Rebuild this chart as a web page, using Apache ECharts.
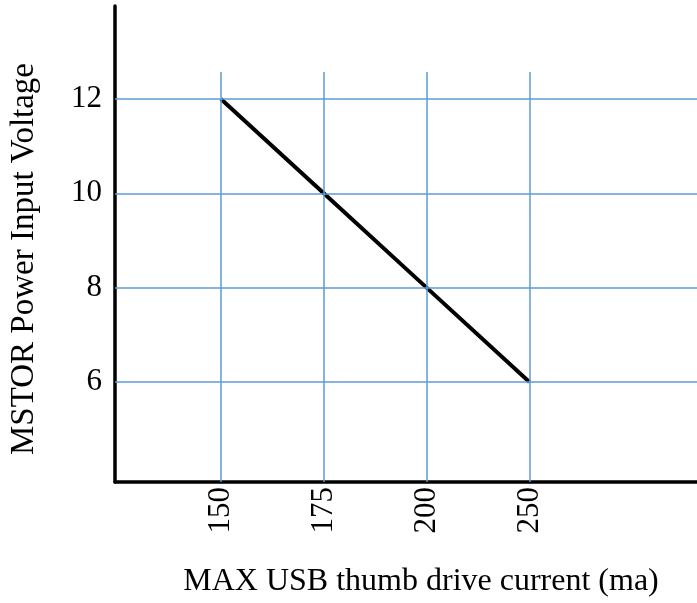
<!DOCTYPE html>
<html lang="en">
<head>
    <meta charset="UTF-8" />
    <title>MSTOR</title>
    <script src="https://cdn.jsdelivr.net/npm/echarts@6/dist/echarts.min.js"></script>
</head>
<body style="margin: 0">
    <div id="main" style="width: 697px; height: 603px"></div>
    <script>
        // 数据
        var currents = ["150", "175", "200", "250"]; // x轴标签（等距排列）
        var voltages = [12, 10, 8, 6];
        var yTicks = [6, 8, 10, 12];

        var xPos = currents.map(function (c, i) { return i + 1; });
        var lineData = xPos.map(function (x, i) { return [x, voltages[i]]; });

        var yMin = 3.88, yMax = 13.97;
        var vLineTop = 12.57; // 竖直网格线的上端
        var gridColor = "#5b9bd5";
        var font = "Liberation Serif";

        var mCharts = echarts.init(document.getElementById("main"));

        var gridLines = [];
        xPos.forEach(function (x) {
            gridLines.push([{ coord: [x, yMin] }, { coord: [x, vLineTop] }]);
        });
        yTicks.forEach(function (v) {
            gridLines.push({ yAxis: v });
        });

        var option = {
            animation: false,
            grid: { left: 114, right: 0, top: 6, bottom: 121 },
            xAxis: {
                type: "value",
                min: -0.03,
                max: 5.63,
                splitLine: { show: false },
                axisTick: { show: false },
                axisLine: { onZero: false, lineStyle: { color: "#000", width: 3.5 } },
                axisLabel: {
                    customValues: xPos,
                    rotate: 90,
                    margin: 5,
                    color: "#000",
                    fontFamily: font,
                    fontSize: 31,
                    formatter: function (v) { return currents[Math.round(v) - 1]; }
                },
                name: "MAX USB thumb drive current (ma)",
                nameLocation: "middle",
                nameGap: 84,
                nameTextStyle: { color: "#000", fontFamily: font, fontSize: 32, padding: [0, 0, 0, 30] }
            },
            yAxis: {
                type: "value",
                min: yMin,
                max: yMax,
                splitLine: { show: false },
                axisTick: { show: false },
                axisLine: { show: true, onZero: false, lineStyle: { color: "#000", width: 3.5 } },
                axisLabel: {
                    customValues: yTicks,
                    margin: 13,
                    color: "#000",
                    fontFamily: font,
                    fontSize: 31
                },
                name: "MSTOR Power Input Voltage",
                nameLocation: "middle",
                nameGap: 74,
                nameTextStyle: { color: "#000", fontFamily: font, fontSize: 33, padding: [0, 30, 0, 0] }
            },
            series: [
                {
                    type: "line",
                    data: [],
                    z: 1,
                    markLine: {
                        silent: true,
                        symbol: "none",
                        label: { show: false },
                        lineStyle: { color: gridColor, width: 1.5, type: "solid" },
                        data: gridLines
                    }
                },
                {
                    type: "line",
                    data: lineData,
                    z: 3,
                    symbol: "none",
                    lineStyle: { color: "#000", width: 4 }
                }
            ]
        };

        mCharts.setOption(option);
    </script>
</body>
</html>
